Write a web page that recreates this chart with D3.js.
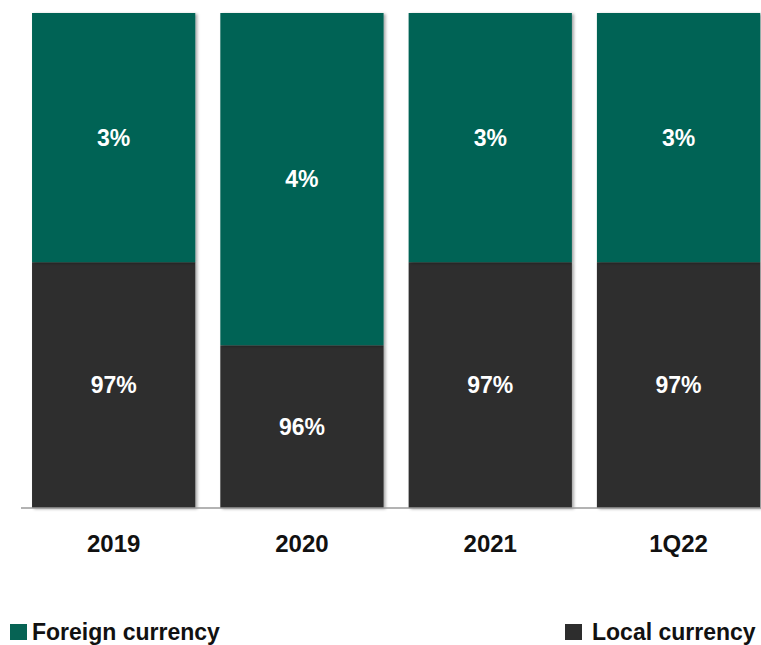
<!DOCTYPE html>
<html>
<head>
<meta charset="utf-8">
<script src="https://cdn.jsdelivr.net/npm/d3@7"></script>
<style>
  html, body { margin: 0; padding: 0; background: #fff; }
  svg { display: block; }
  text { font-family: "Liberation Sans", Arial, sans-serif; font-weight: bold; }
</style>
</head>
<body>
<svg id="chart" width="761" height="645"></svg>
<script>
// Currency composition by period (percent of total)
const categories = ["2019", "2020", "2021", "1Q22"];
const localCurrency = [97, 96, 97, 97];
const foreignCurrency = [3, 4, 3, 3];
const seriesNames = ["Foreign currency", "Local currency"];
const seriesColors = ["#066354", "#2d2d2d"];
const yDomain = [94.04, 100];

const W = 761, H = 645;
const svg = d3.select("#chart");

// soft drop shadow under the bars
const defs = svg.append("defs");
const f = defs.append("filter").attr("id", "shadow")
  .attr("x", "-5%").attr("y", "-5%").attr("width", "115%").attr("height", "115%");
f.append("feDropShadow").attr("dx", 2).attr("dy", 1)
  .attr("stdDeviation", 1.4).attr("flood-color", "#000").attr("flood-opacity", 0.35);

const x = d3.scaleBand()
  .domain(categories)
  .range([19.5, 772.7])
  .paddingInner(0.133)
  .paddingOuter(0.0665);

const y = d3.scaleLinear().domain(yDomain).range([508, 13]);

const rows = categories.map((c, i) => ({
  cat: c, local: localCurrency[i], foreign: foreignCurrency[i]
}));
const stack = d3.stack().keys(["local", "foreign"]);
const layers = stack(rows);

// segment extent, clipped to the visible part of the value axis
const segTop = d => y(Math.min(d[1], yDomain[1]));
const segBottom = d => y(Math.max(d[0], yDomain[0]));

const g = svg.append("g");
layers.forEach((layer, li) => {
  const color = li === 0 ? seriesColors[1] : seriesColors[0];
  g.append("g").attr("filter", "url(#shadow)")
    .selectAll("rect").data(layer).join("rect")
    .attr("x", d => x(d.data.cat))
    .attr("width", x.bandwidth())
    .attr("y", segTop)
    .attr("height", d => segBottom(d) - segTop(d))
    .attr("fill", color);
});

// value labels centred in each segment
layers.forEach(layer => {
  g.append("g").selectAll("text").data(layer).join("text")
    .attr("x", d => x(d.data.cat) + x.bandwidth() / 2)
    .attr("y", d => (segTop(d) + segBottom(d)) / 2)
    .attr("dy", "0.36em")
    .attr("text-anchor", "middle")
    .attr("fill", "#ffffff")
    .attr("font-size", 23)
    .text(d => (d[1] - d[0]) + "%");
});

// baseline axis
const axis = svg.append("g").attr("transform", `translate(0,${y(yDomain[0])})`)
  .call(d3.axisBottom(x).tickSize(0).tickPadding(27));
axis.select(".domain").attr("d", `M21,0H${W}`).attr("stroke", "#9a9a9a").attr("stroke-width", 1.6);
axis.selectAll(".tick text")
  .attr("font-size", 24)
  .attr("font-family", "Liberation Sans, Arial, sans-serif")
  .attr("font-weight", "bold")
  .attr("fill", "#111");

// legend
const legendPos = [{ x: 10 }, { x: 565 }];
const leg = svg.append("g").selectAll("g").data(seriesNames).join("g")
  .attr("transform", (d, i) => `translate(${legendPos[i].x},624)`);
leg.append("rect").attr("width", 17).attr("height", 16)
  .attr("fill", (d, i) => seriesColors[i]);
leg.append("text")
  .attr("x", (d, i) => i === 0 ? 22 : 27)
  .attr("y", 16)
  .attr("font-size", 23)
  .attr("fill", "#111")
  .text(d => d);
</script>
</body>
</html>
